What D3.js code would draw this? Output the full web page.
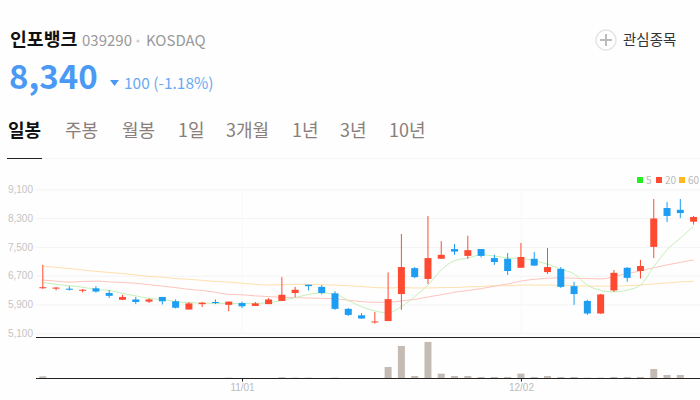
<!DOCTYPE html>
<html>
<head>
<meta charset="utf-8">
<script src="https://cdn.jsdelivr.net/npm/d3@7"></script>
<style>
html, body { margin: 0; padding: 0; background: #fefefe; }
svg { display: block; font-family: "Noto Sans CJK KR", "Noto Sans", sans-serif; }
</style>
</head>
<body>
<script>
// values
var opens = [6360,6340,6340,6290,6350,6220,6030,6040,5980,6110,5990,5760,5910,5970,5890,5940,5860,5910,6000,6220,6450,6390,6210,5780,5600,5410,5440,6190,6910,6610,7170,7440,7250,7440,7190,7170,6920,7170,6800,6890,6410,6000,5650,6290,6920,6830,7500,8580,8530,8200];
var closes = [6380,6370,6310,6310,6260,6140,6110,5970,6040,5990,5810,5930,5950,5940,5980,5850,5930,6040,6170,6310,6410,6220,5780,5610,5510,5430,6050,6940,6660,7190,7280,7370,7410,7250,7080,6830,7220,6980,6940,6390,6190,5650,6180,6780,6640,6970,8290,8360,8440,8330];
var highs = [7000,6390,6410,6330,6410,6300,6170,6110,6070,6110,6040,5970,5970,6040,5980,5980,5970,6080,6660,6390,6450,6440,6270,5800,5660,5690,6790,7860,6940,8360,7660,7580,7810,7440,7280,7330,7610,7360,7470,6940,6530,6030,6190,6860,6940,7140,8830,8750,8830,8360];
var lows = [6330,6290,6290,6230,6230,6080,6030,5910,5940,5900,5790,5760,5830,5910,5710,5800,5860,5910,6000,6100,6290,6180,5750,5580,5500,5370,5440,5750,6630,6470,7170,7280,7170,7210,7000,6720,6920,6980,6750,6360,5890,5610,5640,6250,6530,6620,7190,8190,8300,8120];
var ma5 = [6510,6460,6420,6380,6320,6290,6210,6140,6070,6040,5980,5950,5940,5930,5930,5930,5930,5950,6010,6090,6180,6220,6190,6010,5840,5720,5670,5840,6120,6440,6860,7120,7190,7280,7250,7190,7180,7120,7020,6880,6750,6440,6290,6250,6300,6440,6950,7420,7740,8080];
var ma20 = [6580,6550,6520,6540,6550,6530,6510,6490,6450,6410,6370,6320,6290,6240,6180,6170,6140,6120,6100,6090,6080,6070,6060,6020,5980,5960,5960,6000,6040,6110,6170,6240,6290,6340,6410,6470,6550,6600,6630,6640,6630,6620,6610,6670,6760,6830,6920,7000,7070,7140];
var ma60 = [6970,6930,6900,6860,6820,6790,6760,6720,6680,6660,6620,6600,6570,6540,6520,6490,6460,6440,6450,6460,6460,6450,6440,6420,6400,6370,6360,6370,6360,6360,6370,6370,6390,6400,6420,6420,6440,6440,6440,6430,6420,6410,6410,6410,6420,6440,6470,6500,6530,6540];
var volumes = [6,0,0,0,0,0,0,0,0,0,0,0,0,0,2,0,0,0,3,2,2,0,2,0,0,0,34,97,7,109,14,7,7,4,4,4,14,4,7,4,4,2,2,4,4,4,28,10,10,0];
var priceTicks = [5100,5900,6700,7500,8300,9100];
var dateTicks = [15,36];
var dateLabels = ["11/01","12/02"];
var tabs = ["일봉","주봉","월봉","1일","3개월","1년","3년","10년"];
var tabX = [8,65,122,178,226,292,340,389];
var maNames = ["5","20","60"];

var width = 700;
var height = 400;
var upColor = "#ff4a32";
var downColor = "#1e9ef2";
var maColors = ["#c4f0b8","#ffc4bc","#ffe0ac"];
var legendColors = ["#22ee22","#ff4a32","#ffb81e"];

var svg = d3.select("body").append("svg")
    .attr("width", width)
    .attr("height", height);

var x = d3.scalePoint().domain(d3.range(opens.length)).range([42.8, 693.6]);
var y = d3.scaleLinear().domain([5100, 9100]).range([333.3, 189.3]);
var yVol = d3.scaleLinear().domain([0, 123]).range([378.3, 337.3]);

// header
svg.append("text").attr("x", 10).attr("y", 46).attr("font-size", 18.3).attr("font-weight", 700).attr("fill", "#111").text("인포뱅크");
svg.append("text").attr("x", 82).attr("y", 46).attr("font-size", 15).attr("fill", "#999").text("039290");
svg.append("circle").attr("cx", 138).attr("cy", 41).attr("r", 1.5).attr("fill", "#ccc");
svg.append("text").attr("x", 146).attr("y", 46).attr("font-size", 15).attr("fill", "#999").text("KOSDAQ");
svg.append("text").attr("x", 9).attr("y", 89).attr("font-size", 33).attr("font-weight", 700).attr("fill", "#4a9af5").text("8,340");
svg.append("path").attr("d", "M110,80L119,80L114.5,86Z").attr("fill", "#4a9af5");
svg.append("text").attr("x", 124).attr("y", 89).attr("font-size", 15.5).attr("fill", "#6aa9f5").text("100 (-1.18%)");

svg.append("circle").attr("cx", 606).attr("cy", 40).attr("r", 10).attr("fill", "none").attr("stroke", "#e6e6e6").attr("stroke-width", 1.5);
svg.append("path").attr("d", "M600,40H612M606,34V46").attr("stroke", "#bbb").attr("stroke-width", 2);
svg.append("text").attr("x", 623).attr("y", 45).attr("font-size", 14.5).attr("fill", "#333").text("관심종목");

// tabs
svg.selectAll(".tab").data(tabs).enter().append("text")
    .attr("class", "tab")
    .attr("x", function (d, i) { return tabX[i]; })
    .attr("y", 136.5)
    .attr("font-size", 18)
    .attr("font-weight", function (d, i) { return i == 0 ? 700 : 400; })
    .attr("fill", function (d, i) { return i == 0 ? "#111" : "#8a7f7a"; })
    .text(function (d) { return d; });
svg.append("line").attr("x1", 42).attr("x2", 700).attr("y1", 158.5).attr("y2", 158.5).attr("stroke", "#f6f6f6");
svg.append("line").attr("x1", 7).attr("x2", 42).attr("y1", 158.5).attr("y2", 158.5).attr("stroke", "#222");

// legend
var legX = [637, 656, 679];
var legend = svg.selectAll(".leg").data(maNames).enter().append("g").attr("class", "leg")
    .attr("transform", function (d, i) { return "translate(" + legX[i] + ",177)"; });
legend.append("rect").attr("width", 6).attr("height", 6).attr("fill", function (d, i) { return legendColors[i]; });
legend.append("text").attr("x", 9).attr("y", 7).attr("font-size", 10).attr("fill", "#bbb").text(function (d) { return d; });

// price axis + grid
var yAxis = d3.axisLeft(y).tickValues(priceTicks).tickFormat(d3.format(",")).tickSize(-664).tickPadding(3);
var yg = svg.append("g").attr("transform", "translate(36,0)").call(yAxis);
yg.select(".domain").remove();
yg.selectAll("line").attr("stroke", "#f3f3f3");
yg.selectAll("text").attr("fill", "#c4c4c4").attr("font-size", 10);

// faint vertical grid
svg.selectAll(".vgrid").data(dateTicks).enter().append("line")
    .attr("class", "vgrid")
    .attr("x1", function (d) { return x(d); })
    .attr("x2", function (d) { return x(d); })
    .attr("y1", 189)
    .attr("y2", 333)
    .attr("stroke", "#f8f8f8");

// moving averages
var lineGen = d3.line().x(function (d, i) { return x(i); }).y(function (d) { return y(d); }).curve(d3.curveMonotoneX);
[ma60, ma20, ma5].forEach(function (s, i) {
    svg.append("path").attr("d", lineGen(s)).attr("fill", "none")
        .attr("stroke", maColors[2 - i]).attr("stroke-width", 1);
});

// candles
var candles = svg.selectAll(".candle").data(d3.range(opens.length)).enter().append("g").attr("class", "candle");
function candleColor(i) { return closes[i] >= opens[i] ? upColor : downColor; }
candles.append("line")
    .attr("x1", function (i) { return x(i); })
    .attr("x2", function (i) { return x(i); })
    .attr("y1", function (i) { return y(highs[i]); })
    .attr("y2", function (i) { return y(lows[i]); })
    .attr("stroke", candleColor)
    .attr("stroke-width", 1);
candles.append("rect")
    .attr("x", function (i) { return x(i) - 3.5; })
    .attr("width", 7)
    .attr("y", function (i) { return y(Math.max(opens[i], closes[i])); })
    .attr("height", function (i) { return Math.max(1, Math.abs(y(opens[i]) - y(closes[i]))); })
    .attr("fill", candleColor);

// volume
svg.selectAll(".vol").data(volumes).enter().append("rect")
    .attr("class", "vol")
    .attr("x", function (d, i) { return x(i) - 3.5; })
    .attr("width", 7)
    .attr("y", function (d) { return yVol(d); })
    .attr("height", function (d) { return yVol(0) - yVol(d); })
    .attr("fill", "#c4bbb5");

svg.append("line").attr("x1", 36).attr("x2", 700).attr("y1", 337.5).attr("y2", 337.5).attr("stroke", "#222");

// date axis
var xAxis = d3.axisBottom(x).tickValues(dateTicks)
    .tickFormat(function (d) { return dateLabels[dateTicks.indexOf(d)]; })
    .tickSize(3).tickPadding(2);
var xg = svg.append("g").attr("transform", "translate(0,378.5)").call(xAxis);
xg.select(".domain").remove();
xg.selectAll("line").attr("stroke", "#222");
xg.selectAll("text").attr("fill", "#bbb").attr("font-size", 10);
svg.append("line").attr("x1", 36).attr("x2", 700).attr("y1", 378.5).attr("y2", 378.5).attr("stroke", "#222");
</script>
</body>
</html>
